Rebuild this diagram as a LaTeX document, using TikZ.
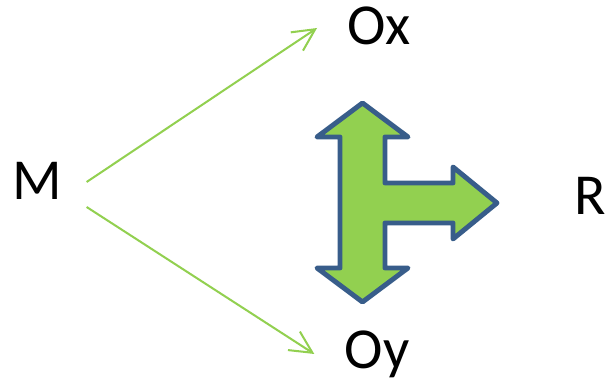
\documentclass[tikz,border=0pt]{standalone}
\usepackage{fontspec}
\setmainfont{Carlito}
\usetikzlibrary{arrows.meta,calc,positioning}
\definecolor{lgreen}{RGB}{146,208,80}
\definecolor{dblue}{RGB}{56,93,138}

\begin{document}
\begin{tikzpicture}[font=\fontsize{33}{38}\selectfont,
      t/.style={inner sep=0pt,anchor=base},
      a/.style={-{Straight Barb[length=4.4mm,width=4.4mm]},draw=lgreen,line width=1.15pt}]
      \useasboundingbox (0,0) rectangle (12.14,7.62);
      \node[t] (M) at (0.75,3.62) {M};
      \node[t] (Ox) at (7.58,6.72) {Ox};
      \node[t] (Oy) at (7.54,0.25) {Oy};
      \node[t] (R) at (11.8,3.32) {R};
      \draw[a] ($(M.base east)+(0.48,0.36)$)--($(Ox.base west)+(-0.6,0.34)$);
      \draw[a] ($(M.base east)+(0.48,-0.14)$)--($(Oy.base west)+(-0.6,0.29)$);
      % three-way arrow
      \draw[dblue,fill=lgreen,line width=2.8pt,line join=round]
        (7.25,5.56)--(8.16,4.88)--(7.7,4.88)--(7.7,3.96)--(9.06,3.96)
        --(9.06,4.28)--(9.94,3.56)--(9.06,2.84)--(9.06,3.16)--(7.7,3.16)
        --(7.7,2.26)--(8.16,2.26)--(7.25,1.58)--(6.34,2.26)--(6.8,2.26)
        --(6.8,4.88)--(6.34,4.88)--cycle;
    \end{tikzpicture}
\end{document}
